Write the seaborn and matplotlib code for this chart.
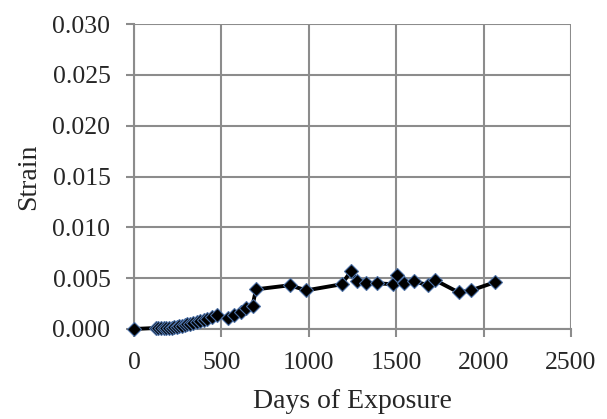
import matplotlib
matplotlib.use("Agg")
import matplotlib.pyplot as plt
import seaborn as sns
import pandas as pd

days = [0, 125, 140, 155, 170, 185, 200, 215, 230, 245, 260, 275, 290, 305, 320,
        340, 360, 380, 400, 420, 445, 475, 535, 573, 611, 640, 678, 698,
        890, 986, 1188, 1242, 1275, 1327, 1390, 1480, 1505, 1544, 1601,
        1684, 1723, 1857, 1928, 2065]
strain = [0.0, 0.0001, 0.0001, 0.0001, 0.0001, 0.0001, 0.0001, 0.0001, 0.0002, 0.0002,
          0.0003, 0.0003, 0.0004, 0.0005, 0.0005, 0.0006, 0.0007, 0.0008, 0.0009,
          0.0010, 0.0012, 0.0014, 0.0011, 0.0014, 0.0017, 0.0021, 0.0023, 0.0039,
          0.0043, 0.0038, 0.0044, 0.0057, 0.0047, 0.0045, 0.0045, 0.0044, 0.0053,
          0.0045, 0.0047, 0.0043, 0.0048, 0.0036, 0.0038, 0.0046]
x_ticks = [0, 500, 1000, 1500, 2000, 2500]
y_ticks = [0.000, 0.005, 0.010, 0.015, 0.020, 0.025, 0.030]

df = pd.DataFrame({"Days of Exposure": days, "Strain": strain})

sns.set_style("white")
plt.rcParams['font.family'] = ['Liberation Serif', 'DejaVu Serif']

fig = plt.figure(figsize=(6.07, 4.19), dpi=100)
ax = fig.add_axes([0.2208, 0.2148, 0.7199, 0.7279])

sns.lineplot(data=df, x="Days of Exposure", y="Strain", ax=ax, sort=False,
             color="black", linewidth=2.8, marker="D", markersize=7,
             markerfacecolor="black", markeredgecolor="#4a6fa5", markeredgewidth=0.8,
             zorder=3, clip_on=False)

ax.set_xlim(0, 2500)
ax.set_ylim(0, 0.030)
ax.set_xticks(x_ticks)
ax.set_yticks(y_ticks)
ax.set_xticklabels([str(t) for t in x_ticks])
ax.set_yticklabels([f"{t:.3f}" for t in y_ticks])
ax.grid(True, color="#8c8c8c", linewidth=1.5)
ax.set_axisbelow(True)
for s in ["top", "right"]:
    ax.spines[s].set_visible(False)
for s in ["left", "bottom"]:
    ax.spines[s].set_color("#8c8c8c")
    ax.spines[s].set_linewidth(1.5)
ax.tick_params(axis="both", which="both", length=5.5, width=1.5, color="#8c8c8c",
               labelsize=18.5, direction="out", left=True, bottom=True)
ax.tick_params(axis="y", pad=11.5)
ax.tick_params(axis="x", pad=11)
ax.set_xlabel("Days of Exposure", fontsize=20, labelpad=11)
ax.set_ylabel("Strain", fontsize=20, labelpad=8)

fig.savefig("out.png", dpi=100)
